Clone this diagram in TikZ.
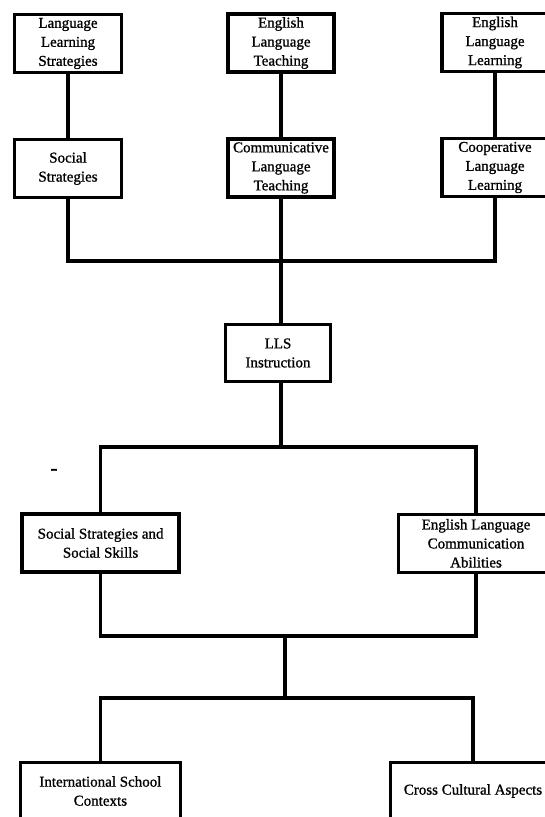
\documentclass[tikz,border=0pt]{standalone}
\usepackage{fontspec}
\setmainfont{Liberation Serif}[FakeBold=1]
\usetikzlibrary{positioning}

\begin{document}
\begin{tikzpicture}[x=1pt, y=-1pt,
    box/.style={draw, line width=3.4pt, align=center, inner sep=0pt,
      minimum height=58pt, font=\fontsize{15}{19}\selectfont},
    link/.style={line width=3.4pt}]
        % page frame, the right and bottom boxes run off it
        \clip (0,0) rectangle (545,817);
        \fill[white] (0,0) rectangle (545,817);

        % top two rows
        \node[box, minimum width=107pt] (lls) at (68,43.5) {Language\\Learning\\Strategies};
        \node[box, minimum width=106pt] (elt) at (281,43) {English\\Language\\Teaching};
        \node[box, minimum width=106pt] (ell) at (495,42.5) {English\\Language\\Learning};

        \node[box, minimum width=107pt] (ss) at (68,168.5) {Social\\Strategies};
        \node[box, minimum width=106pt] (clt) at (281,168) {Communicative\\Language\\Teaching};
        \node[box, minimum width=106pt] (cll) at (495,167.5) {Cooperative\\Language\\Learning};

        \draw[link] (lls) -- (ss);
        \draw[link] (elt) -- (clt);
        \draw[link] (ell) -- (cll);

        % instruction
        \node[box, minimum width=105pt, minimum height=57pt] (instr) at (278,353) {LLS\\Instruction};

        \coordinate (hubA) at (281,261);
        \draw[link] (ss.south) |- (hubA) -| (cll.south);
        \draw[link] (clt.south) -- (clt.south |- instr.north);

        % outcomes
        \node[box, minimum width=157pt] (sss) at (100.6,543) {Social Strategies and\\Social Skills};
        \node[box, minimum width=155pt] (elca) at (476,543.3) {English Language\\Communication\\Abilities};

        \coordinate (hubB) at (281,447);
        \draw[link] (instr.south -| hubB) -- (hubB);
        \draw[link] (sss.north) |- (hubB) -| (elca.north);

        % contexts
        \node[box, minimum width=160pt, minimum height=57pt] (isc) at (100.4,791) {International School\\Contexts};
        \node[box, minimum width=165pt, minimum height=57pt] (cca) at (473,791) {Cross Cultural Aspects};

        \coordinate (hubC) at (285,636);
        \coordinate (hubD) at (285,698);
        \draw[link] (sss.south) |- (hubC) -| (elca.south);
        \draw[link] (hubC) -- (hubD);
        \draw[link] (isc.north) |- (hubD) -| (cca.north);

        \node[font=\fontsize{22}{22}\selectfont] (tick) at (54,472) {-};
      \end{tikzpicture}
\end{document}
